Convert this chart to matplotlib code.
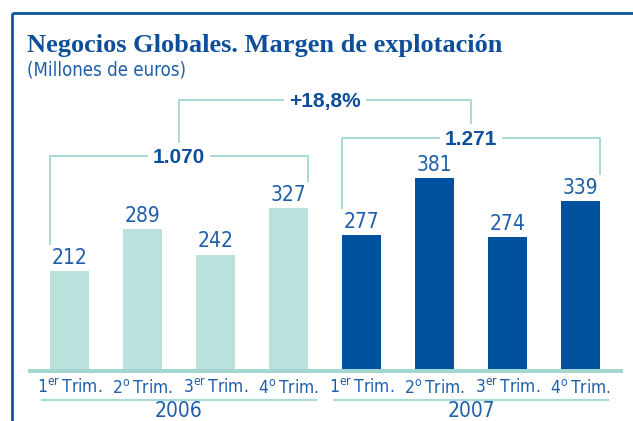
import os

import matplotlib

matplotlib.use("Agg")
import matplotlib.font_manager as fm
import matplotlib.pyplot as plt
import matplotlib.transforms as mtransforms
import numpy as np

# data
quarters = ["1$^{\\mathregular{er}}\\,$Trim.", "2$^{\\mathregular{o}}\\,$Trim.",
            "3$^{\\mathregular{er}}\\,$Trim.", "4$^{\\mathregular{o}}\\,$Trim."]
years = ["2006", "2007"]
values_2006 = [212, 289, 242, 327]
values_2007 = [277, 381, 274, 339]
totals = ["1.070", "1.271"]
growth = "+18,8%"

LIGHT = "#B9E2DD"
DARK = "#00519E"
LINE = "#A7DAD5"
BASE = "#A3D6D0"
TEXT = "#1F5FA9"
BOLDTEXT = "#0E4F9B"
BORDER = "#0A55A3"

plt.rcParams["font.family"] = ["Liberation Sans", "DejaVu Sans"]


def find_condensed():
    """Look for a narrow sans face; the reference uses a condensed type."""
    best = None
    for f in fm.fontManager.ttflist:
        name = f.name.lower()
        base = os.path.basename(f.fname).lower()
        if "serif" in name or "mono" in name or "serif" in base or "mono" in base:
            continue
        narrow = ("narrow" in name or "condensed" in name or "narrow" in base
                  or "condensed" in base or f.stretch in ("condensed", "semi-condensed"))
        if not narrow or f.style != "normal" or f.weight not in (400, "normal", "regular"):
            continue
        if "bold" in base or "oblique" in base or "italic" in base:
            continue
        rank = 0 if "liberation" in name else 1 if "dejavu" in name else 2
        if best is None or rank < best[0]:
            best = (rank, f.fname)
    return best[1] if best else None


COND_FILE = find_condensed()


def cond(size):
    if COND_FILE:
        return fm.FontProperties(fname=COND_FILE, size=size)
    return fm.FontProperties(family=["Liberation Sans", "DejaVu Sans"], size=size * 0.88)


W, H = 633, 421
fig = plt.figure(figsize=(W / 100, H / 100), dpi=100)

# overlay in pixel units for frame, titles and labels
ov = fig.add_axes([0, 0, 1, 1])
ov.set_xlim(0, W)
ov.set_ylim(H, 0)
ov.axis("off")

# bar axes: the chart's floor sits at 34, not at zero
ax = fig.add_axes([28 / W, (H - 369) / H, (623 - 28) / W, (369 - 13) / H])
ax.set_xlim(-0.568, 7.582)
ax.set_ylim(34, 34 + 356 / 0.55)
ax.axis("off")

vals = values_2006 + values_2007
x = np.arange(len(vals))
width = 39 / 73
ax.bar(x, vals, width=width, color=[LIGHT] * 4 + [DARK] * 4, zorder=2)
for xi, v in zip(x, vals):
    ax.annotate(str(v), (xi, v), xytext=(0, 5.2), textcoords="offset points",
                ha="center", va="baseline", fontproperties=cond(15), color=TEXT)

bt = mtransforms.blended_transform_factory(ax.transData, ov.transData)


def vpx(v):
    # pixel row (from top) of a value on the bar axes
    return H - ax.transData.transform((0, v))[1]


# frame
ov.plot([12, 12], [H, 13], color=BORDER, lw=2.0, solid_capstyle="butt")
ov.plot([12, W], [13, 13], color=BORDER, lw=2.0, solid_capstyle="butt")

ov.text(27, 52, "Negocios Globales. Margen de explotación", family=["Liberation Serif", "DejaVu Serif"],
        weight="bold", fontsize=19, color=BOLDTEXT, va="baseline")
ov.text(27, 75, "(Millones de euros)", fontproperties=cond(13.4), color=TEXT, va="baseline")

# baseline and category labels
ov.plot([28, 623], [371, 371], color=BASE, lw=2.9, solid_capstyle="butt")
for i, q in enumerate(quarters * 2):
    ov.text(i, 393, q, transform=bt, ha="center", va="baseline", fontproperties=cond(12.5),
            color=TEXT)
for g, yr in enumerate(years):
    c = 1.5 + 4 * g
    ov.plot([c - 1.875, c + 1.875], [400, 400], transform=bt, color=LINE, lw=1.5)
    ov.text(c, 417, yr, transform=bt, ha="center", va="baseline", fontproperties=cond(15),
            color=TEXT)


def bracket(x0, x1, level, b0, b1, label):
    ov.plot([x0, x0, x1, x1], [b0, level, level, b1], transform=bt,
            color=LINE, lw=1.4, zorder=1)
    ov.text((x0 + x1) / 2, level + 7, label, transform=bt, ha="center", va="baseline",
            family=["Liberation Sans", "DejaVu Sans"], weight="bold", fontsize=15,
            color=BOLDTEXT, zorder=3,
            bbox=dict(facecolor="white", edgecolor="none", pad=3.5))


half = width / 2
bracket(0 - half, 3 + half, 156, vpx(values_2006[0]) - 27, vpx(values_2006[3]) - 27, totals[0])
bracket(4 - half, 7 + half, 138, vpx(values_2007[0]) - 27, vpx(values_2007[3]) - 27, totals[1])
bracket(1.5, 5.5, 100, 147, 123, growth)

fig.savefig("out.png", dpi=100)
